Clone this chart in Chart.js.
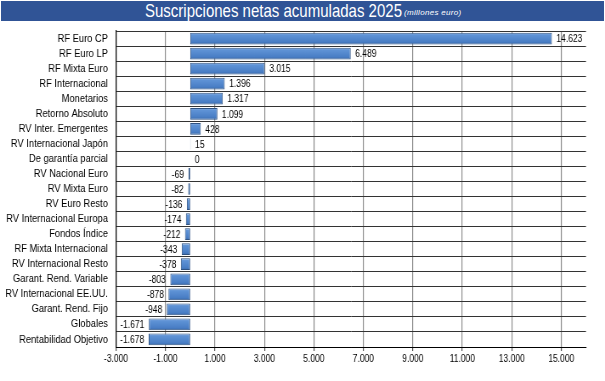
<!DOCTYPE html>
<html>
<head>
<meta charset="utf-8">
<script src="https://cdn.jsdelivr.net/npm/chart.js@4.4.1/dist/chart.umd.min.js"></script>
<style>
  html, body { margin: 0; padding: 0; background: #ffffff; }
  #wrap { position: relative; width: 605px; height: 381px; overflow: hidden; }
  #title {
    position: absolute; left: 1px; top: 1px; width: 603px; height: 20px;
    background: #305496; color: #ffffff; white-space: nowrap;
    font-family: 'Liberation Sans', Arial, sans-serif;
  }
  #tmain {
    position: absolute; left: 144px; top: 0px; font-size: 19px; line-height: 20px;
    transform: scaleX(0.79); transform-origin: 0 0;
  }
  #tsub {
    position: absolute; left: 403px; top: 6px; font-size: 8px; line-height: 12px;
    font-style: italic; letter-spacing: 0.3px;
  }
  #c { position: absolute; left: 0; top: 0; width: 605px; height: 381px; }
</style>
</head>
<body>
<div id="wrap">
  <div id="title"><span id="tmain">Suscripciones netas acumuladas 2025</span><span id="tsub">(millones euro)</span></div>
  <canvas id="c" width="712" height="381" style="width:605px;height:381px"></canvas>
</div>
<script>
const categories = [
  'RF Euro CP', 'RF Euro LP', 'RF Mixta Euro', 'RF Internacional', 'Monetarios',
  'Retorno Absoluto', 'RV Inter. Emergentes', 'RV Internacional Japón', 'De garantía parcial',
  'RV Nacional Euro', 'RV Mixta Euro', 'RV Euro Resto', 'RV Internacional Europa',
  'Fondos Índice', 'RF Mixta Internacional', 'RV Internacional Resto',
  'Garant. Rend. Variable', 'RV Internacional EE.UU.', 'Garant. Rend. Fijo',
  'Globales', 'Rentabilidad Objetivo'
];
const values = [
  14623, 6489, 3015, 1396, 1317,
  1099, 428, 15, 0,
  -69, -82, -136, -174,
  -212, -343, -378,
  -803, -878, -948,
  -1671, -1678
];
const xTicks = [-3000, -1000, 1000, 3000, 5000, 7000, 9000, 11000, 13000, 15000];
const xMin = -3000;
const xMax = 16000;

// canvas is drawn 712 px wide and shown 605 px wide (narrow lettering like the reference)
const SX = 605 / 712;
const FONT = "'Liberation Sans', Arial, sans-serif";

function fmt(v) {
  const s = Math.abs(v).toString().replace(/\B(?=(\d{3})+(?!\d))/g, '.');
  return (v < 0 ? '-' : '') + s;
}

const valueLabels = {
  id: 'valueLabels',
  afterDatasetsDraw(chart) {
    const ctx = chart.ctx;
    const meta = chart.getDatasetMeta(0);
    ctx.save();
    ctx.font = '10px ' + FONT;
    ctx.fillStyle = '#000000';
    ctx.textBaseline = 'middle';
    const gap = 4.5 / SX;
    meta.data.forEach((el, i) => {
      const v = chart.data.datasets[0].data[i];
      if (v >= 0) {
        ctx.textAlign = 'left';
        ctx.fillText(fmt(v), el.x + gap, el.y + 1);
      } else {
        ctx.textAlign = 'right';
        ctx.fillText(fmt(v), el.x - gap, el.y + 1);
      }
    });
    ctx.restore();
  }
};

function barFill(context) {
  const chart = context.chart;
  const ys = chart.scales && chart.scales.y;
  if (!ys) return '#4f81bd';
  const yc = ys.getPixelForValue(context.dataIndex);
  if (!isFinite(yc)) return '#4f81bd';
  const g = chart.ctx.createLinearGradient(0, yc - 6, 0, yc + 6);
  g.addColorStop(0, '#9cbde8');
  g.addColorStop(0.2, '#5f93d6');
  g.addColorStop(0.75, '#4a7fc6');
  g.addColorStop(1, '#3a6aab');
  return g;
}

new Chart(document.getElementById('c'), {
  type: 'bar',
  data: {
    labels: categories,
    datasets: [{
      data: values,
      backgroundColor: barFill,
      borderColor: '#2f5383',
      borderWidth: 1,
      borderSkipped: false,
      barPercentage: 0.78,
      categoryPercentage: 1.0
    }]
  },
  options: {
    indexAxis: 'y',
    responsive: false,
    animation: false,
    devicePixelRatio: 1,
    layout: { padding: { top: 31, right: 22.4, bottom: 0, left: 0 } },
    plugins: { legend: { display: false }, tooltip: { enabled: false }, title: { display: false } },
    scales: {
      x: {
        min: xMin, max: xMax,
        afterBuildTicks(scale) { scale.ticks = xTicks.map(v => ({ value: v })); },
        afterFit(scale) { scale.height = 34; },
        grid: { color: '#8f8f8f', lineWidth: 1.2, tickLength: 4, tickColor: '#555555' },
        border: { color: '#000000', width: 1 },
        ticks: {
          color: '#000000', padding: 2, maxRotation: 0, autoSkip: false,
          font: { family: FONT, size: 10 },
          callback: (v) => fmt(v)
        }
      },
      y: {
        afterFit(scale) { scale.width = 136.5; },
        grid: { color: '#333333', lineWidth: 1, offset: true, drawTicks: false },
        border: { color: '#000000', width: 1.2 },
        ticks: {
          color: '#000000', padding: 9.5, autoSkip: false,
          font: { family: FONT, size: 11 }
        }
      }
    }
  },
  plugins: [valueLabels]
});
</script>
</body>
</html>
